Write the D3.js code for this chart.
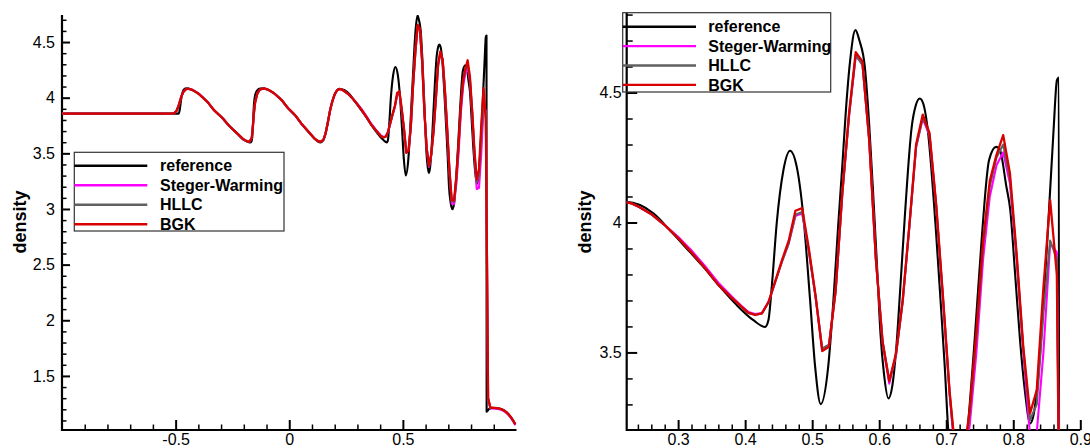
<!DOCTYPE html>
<html>
<head>
<meta charset="utf-8">
<script src="https://cdn.jsdelivr.net/npm/d3@7"></script>
<style>
  body { margin: 0; background: #fff; }
  svg { display: block; }
  text { font-family: "Liberation Sans", Arial, Helvetica, sans-serif; fill: #000; }
</style>
</head>
<body>
<svg id="chart" width="1090" height="448"></svg>
<script>
// ---- series names (legend order) ----
const seriesNames = ["reference", "Steger-Warming", "HLLC", "BGK"];

// ---- reference solution (fine grid) ----
const refX = [-1, -0.487, -0.482, -0.476, -0.470, -0.463, -0.452, -0.44, -0.424, -0.398, -0.359, -0.332,
  -0.293, -0.266, -0.227, -0.2025, -0.185, -0.175, -0.168, -0.163, -0.159, -0.155, -0.149, -0.14, -0.128,
  -0.115, -0.091, -0.067, -0.032, -0.007, 0.029, 0.054, 0.089, 0.112, 0.125, 0.137, 0.15, 0.16, 0.17, 0.18,
  0.19, 0.20, 0.21, 0.22, 0.2432, 0.263, 0.2879, 0.3128, 0.3376, 0.3626, 0.3875, 0.4123, 0.4297, 0.4347,
  0.4397, 0.4472, 0.4570, 0.4670, 0.4770, 0.4869, 0.4969, 0.5044, 0.5127, 0.5241, 0.5317, 0.5386, 0.545,
  0.55, 0.5565, 0.5645, 0.5705, 0.5785, 0.585, 0.5915, 0.597, 0.6019, 0.607, 0.6138, 0.6195, 0.6252, 0.632,
  0.6382, 0.6485, 0.6545, 0.6605, 0.666, 0.6719, 0.6849, 0.691, 0.6978, 0.7030, 0.710, 0.718, 0.726, 0.7317,
  0.7431, 0.7535, 0.7639, 0.7743, 0.7795, 0.7898, 0.7954, 0.8028, 0.8100, 0.8170, 0.8253, 0.8303, 0.8353,
  0.8502, 0.8601, 0.8651, 0.868, 0.8686, 0.88, 0.895, 0.915, 0.935, 0.955, 0.975, 0.995];
const refRho = [3.857, 3.857, 3.89, 3.98, 4.045, 4.075, 4.084, 4.078, 4.066, 4.033, 3.96, 3.89,
  3.815, 3.75, 3.673, 3.625, 3.605, 3.598, 3.602, 3.64, 3.80, 3.95, 4.03, 4.068, 4.082,
  4.084, 4.07, 4.04, 3.975, 3.91, 3.835, 3.765, 3.683, 3.628, 3.608, 3.598, 3.618, 3.68, 3.78, 3.89,
  3.97, 4.03, 4.065, 4.08, 4.067, 4.035, 3.970, 3.900, 3.829, 3.752, 3.682, 3.624, 3.598, 3.624,
  3.752, 4.000, 4.200, 4.276, 4.214, 4.022, 3.701, 3.445, 3.301, 3.45, 3.70, 3.98, 4.22,
  4.42, 4.62, 4.74, 4.70, 4.60, 4.38, 4.086, 3.82, 3.573, 3.42, 3.323, 3.37, 3.509, 3.77,
  4.022, 4.368, 4.45, 4.477, 4.455, 4.368, 3.958, 3.72, 3.445, 3.201, 3.06, 2.997, 3.06, 3.2,
  3.573, 3.958, 4.240, 4.291, 4.283, 4.137, 4.05, 3.80, 3.55, 3.36, 3.227, 3.26, 3.355,
  3.906, 4.355, 4.547, 4.558, 1.178, 1.205, 1.213, 1.21, 1.20, 1.175, 1.13, 1.065];

// ---- numerical solutions (shared cell centres) ----
const numX = [-1, -0.52, -0.505, -0.495, -0.485, -0.475, -0.465, -0.455, -0.445, -0.424, -0.398, -0.359,
  -0.332, -0.293, -0.266, -0.227, -0.2025, -0.185, -0.175, -0.165, -0.16, -0.155, -0.15, -0.14, -0.13,
  -0.12, -0.11, -0.091, -0.067, -0.032, -0.007, 0.029, 0.054, 0.089, 0.112, 0.125, 0.137, 0.15, 0.16,
  0.17, 0.18, 0.19, 0.20, 0.21, 0.22, 0.23, 0.24, 0.26, 0.28, 0.30, 0.32, 0.34, 0.36, 0.38, 0.395,
  0.405, 0.415, 0.425, 0.435, 0.445, 0.455, 0.465, 0.475, 0.485, 0.495, 0.505, 0.515, 0.525, 0.535,
  0.545, 0.555, 0.565, 0.575, 0.585, 0.595, 0.605, 0.615, 0.625, 0.635, 0.645, 0.655, 0.665, 0.675,
  0.685, 0.695, 0.705, 0.715, 0.725, 0.735, 0.745, 0.755, 0.765, 0.775, 0.785, 0.795, 0.805, 0.815,
  0.825, 0.835, 0.845, 0.855, 0.865, 0.875, 0.885, 0.895, 0.905, 0.915, 0.925, 0.935, 0.945, 0.955,
  0.965, 0.975, 0.985, 0.995];
const bgkRho = [3.857, 3.857, 3.862, 3.885, 3.94, 4.01, 4.055, 4.075, 4.082, 4.068, 4.035, 3.96,
  3.89, 3.815, 3.75, 3.675, 3.627, 3.608, 3.604, 3.64, 3.74, 3.87, 3.96, 4.04, 4.07,
  4.08, 4.083, 4.07, 4.04, 3.975, 3.91, 3.835, 3.765, 3.685, 3.632, 3.612, 3.603, 3.62, 3.68,
  3.78, 3.89, 3.97, 4.03, 4.065, 4.078, 4.074, 4.062, 4.032, 3.99, 3.94, 3.885, 3.825, 3.76, 3.71, 3.675,
  3.652, 3.644, 3.650, 3.695, 3.775, 3.855, 3.93, 4.045, 4.055, 3.90, 3.72, 3.505, 3.522, 3.74,
  4.12, 4.42, 4.655, 4.62, 4.32, 3.86, 3.54, 3.39, 3.495, 3.70, 3.99, 4.30, 4.415, 4.345,
  4.07, 3.72, 3.35, 3.08, 3.075, 3.28, 3.58, 3.93, 4.16, 4.26, 4.336, 4.19, 3.88, 3.52,
  3.265, 3.355, 3.75, 4.086, 3.80, 1.30, 1.215, 1.213, 1.212, 1.21, 1.207, 1.20, 1.19, 1.175,
  1.155, 1.13, 1.10, 1.065];
const hllcRho = [3.857, 3.857, 3.862, 3.885, 3.94, 4.01, 4.055, 4.075, 4.082, 4.068, 4.035, 3.96,
  3.89, 3.815, 3.75, 3.675, 3.627, 3.608, 3.604, 3.64, 3.74, 3.87, 3.96, 4.04, 4.07,
  4.08, 4.083, 4.07, 4.04, 3.975, 3.91, 3.835, 3.765, 3.685, 3.632, 3.612, 3.603, 3.62, 3.68,
  3.78, 3.89, 3.97, 4.03, 4.065, 4.078, 4.074, 4.062, 4.032, 3.99, 3.94, 3.885, 3.825, 3.76, 3.71, 3.675,
  3.652, 3.645, 3.650, 3.693, 3.772, 3.85, 3.92, 4.03, 4.04, 3.89, 3.715, 3.515, 3.53, 3.735,
  4.11, 4.41, 4.645, 4.605, 4.32, 3.86, 3.545, 3.39, 3.49, 3.695, 3.985, 4.29, 4.405, 4.34,
  4.065, 3.715, 3.345, 3.07, 3.065, 3.26, 3.56, 3.91, 4.14, 4.25, 4.30, 4.17, 3.87, 3.51,
  3.24, 3.30, 3.65, 3.93, 3.86, 1.30, 1.215, 1.213, 1.212, 1.21, 1.207, 1.20, 1.19, 1.175,
  1.155, 1.13, 1.10, 1.065];
const swRho = [3.857, 3.857, 3.862, 3.885, 3.94, 4.01, 4.055, 4.075, 4.082, 4.068, 4.035, 3.96,
  3.89, 3.815, 3.75, 3.675, 3.627, 3.608, 3.604, 3.64, 3.74, 3.87, 3.96, 4.04, 4.07,
  4.08, 4.083, 4.07, 4.04, 3.975, 3.91, 3.835, 3.765, 3.685, 3.632, 3.612, 3.603, 3.62, 3.68,
  3.78, 3.89, 3.97, 4.03, 4.065, 4.078, 4.074, 4.062, 4.032, 3.99, 3.945, 3.892, 3.833, 3.768, 3.715, 3.678,
  3.655, 3.648, 3.652, 3.695, 3.772, 3.85, 3.92, 4.025, 4.035, 3.89, 3.715, 3.51, 3.53, 3.735,
  4.11, 4.41, 4.64, 4.61, 4.32, 3.86, 3.54, 3.38, 3.49, 3.695, 3.985, 4.29, 4.40, 4.335,
  4.06, 3.71, 3.34, 3.05, 3.045, 3.22, 3.50, 3.86, 4.10, 4.22, 4.27, 4.15, 3.86, 3.50,
  3.18, 3.19, 3.50, 3.92, 3.885, 1.30, 1.21, 1.208, 1.206, 1.204, 1.20, 1.193, 1.183, 1.168,
  1.148, 1.123, 1.093, 1.058];

// ---- tick labels ----
const leftXTicks = [-0.5, 0, 0.5];
const leftYTicks = [1.5, 2, 2.5, 3, 3.5, 4, 4.5];
const rightXTicks = [0.3, 0.4, 0.5, 0.6, 0.7, 0.8, 0.9];
const rightYTicks = [3.5, 4, 4.5];

const seriesColors = ["#000000", "#ff00ff", "#606060", "#d90000"];
const series = [
  { name: seriesNames[0], x: refX, y: refRho, color: seriesColors[0], smooth: true },
  { name: seriesNames[1], x: numX, y: swRho, color: seriesColors[1], smooth: false },
  { name: seriesNames[2], x: numX, y: hllcRho, color: seriesColors[2], smooth: false },
  { name: seriesNames[3], x: numX, y: bgkRho, color: seriesColors[3], smooth: false }
];

const svg = d3.select("#chart");

function minorValues(lo, hi, step) {
  const out = [];
  const n = Math.round((hi - lo) / step);
  for (let i = 0; i <= n; i++) out.push(+(lo + i * step).toFixed(4));
  return out;
}

function drawPanel(cfg) {
  const g = svg.append("g");
  const x = d3.scaleLinear().domain(cfg.xDomain).range(cfg.xRange);
  const y = d3.scaleLinear().domain(cfg.yDomain).range(cfg.yRange);
  const x0 = cfg.xRange[0], x1 = cfg.xRange[1];
  const yb = cfg.yRange[0], yt = cfg.yRange[1];

  // minor ticks
  const xMinor = minorValues(cfg.xMinor[0], cfg.xMinor[1], cfg.xMinor[2]).filter(v => !cfg.xTicks.some(t => Math.abs(t - v) < 1e-6));
  const yMinor = minorValues(cfg.yMinor[0], cfg.yMinor[1], cfg.yMinor[2]).filter(v => !cfg.yTicks.some(t => Math.abs(t - v) < 1e-6));

  g.append("g").attr("transform", `translate(0,${yb})`)
    .call(d3.axisBottom(x).tickValues(xMinor).tickSize(-cfg.xMinorLen).tickSizeOuter(0).tickFormat(""))
    .call(a => a.select(".domain").remove())
    .call(a => a.selectAll(".tick line").attr("stroke", "#000").attr("stroke-width", 1.5));
  g.append("g").attr("transform", `translate(${x0},0)`)
    .call(d3.axisLeft(y).tickValues(yMinor).tickSize(-cfg.yMinorLen).tickSizeOuter(0).tickFormat(""))
    .call(a => a.select(".domain").remove())
    .call(a => a.selectAll(".tick line").attr("stroke", "#000").attr("stroke-width", 1.5));

  // major ticks with labels
  const xAxis = g.append("g").attr("transform", `translate(0,${yb})`)
    .call(d3.axisBottom(x).tickValues(cfg.xTicks).tickSize(-cfg.xMajorLen).tickSizeOuter(0)
      .tickPadding(6).tickFormat(d => String(d)));
  xAxis.select(".domain").remove();
  xAxis.selectAll(".tick line").attr("stroke", "#000").attr("stroke-width", 2);
  xAxis.selectAll(".tick text").attr("font-size", 16).attr("y", null).attr("dy", null)
    .attr("transform", `translate(0,${cfg.xLabelBaseline - yb})`).attr("fill", "#000")
    .style("font-family", '"Liberation Sans", Arial, sans-serif');

  const yAxis = g.append("g").attr("transform", `translate(${x0},0)`)
    .call(d3.axisLeft(y).tickValues(cfg.yTicks).tickSize(-cfg.yMajorLen).tickSizeOuter(0)
      .tickPadding(cfg.yLabelGap).tickFormat(d => String(d)));
  yAxis.select(".domain").remove();
  yAxis.selectAll(".tick line").attr("stroke", "#000").attr("stroke-width", 2);
  yAxis.selectAll(".tick text").attr("font-size", 16).attr("fill", "#000")
    .style("font-family", '"Liberation Sans", Arial, sans-serif');

  // axis lines
  g.append("line").attr("x1", x0).attr("x2", x1).attr("y1", yb).attr("y2", yb)
    .attr("stroke", "#000").attr("stroke-width", 2.2);
  g.append("line").attr("x1", x0).attr("x2", x0).attr("y1", yb + 1.1).attr("y2", yt)
    .attr("stroke", "#000").attr("stroke-width", 2.2);

  // curves
  const clipId = cfg.id + "-clip";
  svg.append("clipPath").attr("id", clipId).append("rect")
    .attr("x", x0).attr("y", yt).attr("width", x1 - x0).attr("height", yb - yt);
  const curves = g.append("g").attr("clip-path", `url(#${clipId})`);
  series.forEach(s => {
    const pts = s.x.map((v, i) => [v, s.y[i]]);
    const line = d3.line().x(d => x(d[0])).y(d => y(d[1]))
      .curve(s.smooth ? d3.curveMonotoneX : d3.curveLinear);
    curves.append("path").datum(pts).attr("d", line)
      .attr("fill", "none").attr("stroke", s.color)
      .attr("stroke-width", s.name === "BGK" ? 2.3 : 2.1)
      .attr("stroke-linejoin", "round");
  });

  // y-axis title
  g.append("text").attr("transform", `translate(${cfg.titleX},${cfg.titleY}) rotate(-90)`)
    .attr("text-anchor", "middle").attr("dy", "0.35em")
    .attr("font-size", 18).attr("font-weight", "bold").text("density");

  // legend
  const L = cfg.legend;
  const lg = g.append("g");
  lg.append("rect").attr("x", L.x).attr("y", L.y).attr("width", L.w).attr("height", L.h)
    .attr("fill", "none").attr("stroke", "#333").attr("stroke-width", 1.2);
  series.forEach((s, i) => {
    const ry = L.y + L.row0 + i * L.rowStep;
    lg.append("line").attr("x1", L.x).attr("x2", L.x + L.lineLen).attr("y1", ry).attr("y2", ry)
      .attr("stroke", s.color).attr("stroke-width", 2.4);
    lg.append("text").attr("x", L.textX).attr("y", ry).attr("dy", "0.36em")
      .attr("font-size", 16).attr("font-weight", "bold").text(s.name);
  });
}

drawPanel({
  id: "left",
  xDomain: [-1, 1], xRange: [62, 516.5],
  yDomain: [1.014, 4.743], yRange: [430, 15],
  xTicks: leftXTicks, yTicks: leftYTicks,
  xMinor: [-0.9, 0.9, 0.1], yMinor: [1.1, 4.7, 0.1],
  xMajorLen: 10, xMinorLen: 5.5, yMajorLen: 8, yMinorLen: 4.5,
  xLabelBaseline: 444.5, yLabelGap: 7,
  titleX: 20, titleY: 222,
  legend: { x: 74.3, y: 152.3, w: 209.7, h: 78.7, row0: 13.4, rowStep: 19.5, lineLen: 73, textX: 160 }
});

drawPanel({
  id: "right",
  xDomain: [0.2233, 0.9], xRange: [626.7, 1080.3],
  yDomain: [3.2015, 4.806], yRange: [430, 13],
  xTicks: rightXTicks, yTicks: rightYTicks,
  xMinor: [0.24, 0.88, 0.02], yMinor: [3.3, 4.8, 0.1],
  xMajorLen: 10, xMinorLen: 5.5, yMajorLen: 10.5, yMinorLen: 6,
  xLabelBaseline: 444.5, yLabelGap: 5,
  titleX: 584.5, titleY: 222,
  legend: { x: 622.7, y: 12.7, w: 208, h: 79.3, row0: 14, rowStep: 19.4, lineLen: 73.3, textX: 708.3 }
});
</script>
</body>
</html>
